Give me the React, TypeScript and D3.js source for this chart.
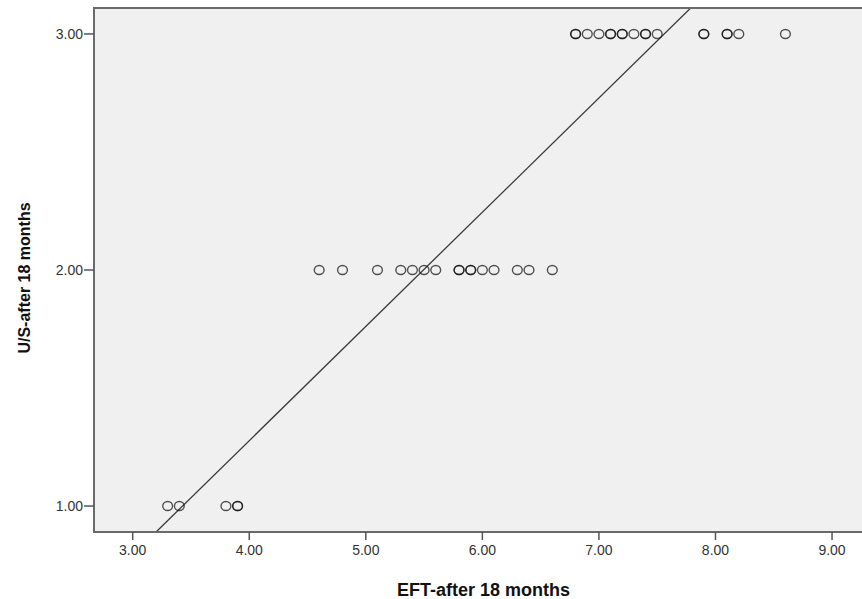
import React from "react";
import * as d3 from "d3";

// EFT-after 18 months (x) and U/S-after 18 months (y)
const eft = [
  3.3, 3.4, 3.8, 3.9, 3.9,
  4.6, 4.8, 5.1, 5.3, 5.4, 5.5, 5.6, 5.8, 5.8, 5.9, 5.9, 6.0, 6.1, 6.3, 6.4, 6.6,
  6.8, 6.8, 6.9, 7.0, 7.1, 7.1, 7.2, 7.2, 7.3, 7.4, 7.4, 7.5, 7.9, 7.9, 8.1, 8.1, 8.2, 8.6,
];
const us = [
  1, 1, 1, 1, 1,
  2, 2, 2, 2, 2, 2, 2, 2, 2, 2, 2, 2, 2, 2, 2, 2,
  3, 3, 3, 3, 3, 3, 3, 3, 3, 3, 3, 3, 3, 3, 3, 3, 3, 3,
];
const xTicks = [3, 4, 5, 6, 7, 8, 9];
const yTicks = [1, 2, 3];
const xDomain = [2.668, 9.257];
const yDomain = [0.89, 3.11];
// linear fit line
const fitIntercept = -0.659;
const fitSlope = 0.484;
const xTitle = "EFT-after 18 months";
const yTitle = "U/S-after 18 months";

export default function App() {
  const W = 862, H = 599;
  const left = 94, top = 8, bottom = 532, right = 862;
  const x = d3.scaleLinear().domain(xDomain).range([left, right]);
  const y = d3.scaleLinear().domain(yDomain).range([bottom, top]);
  const fmt = d3.format(".2f");
  const fitFn = (v: number) => fitIntercept + fitSlope * v;
  const lineGen = d3.line<number>().x((d) => x(d)).y((d) => y(fitFn(d)));
  const fitXs = [xDomain[0], xDomain[1]];
  const font = "'Liberation Sans', Arial, sans-serif";
  return (
    <svg
      width={W}
      height={H}
      style={{ position: "absolute", left: 0, top: 0, background: "#fff" }}
      fontFamily={font}
    >
      <defs>
        <clipPath id="plotClip">
          <rect x={left} y={top} width={right + 20 - left} height={bottom - top} />
        </clipPath>
      </defs>
      <rect x={left} y={top} width={right + 20 - left} height={bottom - top} fill="#f0f0f0" />
      <g clipPath="url(#plotClip)">
        <path d={lineGen(fitXs) || ""} stroke="#3a3a3a" strokeWidth={1.3} fill="none" />
        {eft.map((v, i) => (
          <ellipse
            key={i}
            cx={x(v)}
            cy={y(us[i])}
            rx={4.9}
            ry={4.5}
            fill="none"
            stroke="#111"
            strokeOpacity={0.72}
            strokeWidth={1.4}
          />
        ))}
      </g>
      {/* frame */}
      <line x1={left} x2={right + 20} y1={top} y2={top} stroke="#6a6a6a" strokeWidth={2} />
      <line x1={left} x2={left} y1={top - 1} y2={bottom + 1} stroke="#6a6a6a" strokeWidth={2} />
      <line x1={left} x2={right + 20} y1={bottom} y2={bottom} stroke="#6a6a6a" strokeWidth={2} />
      {/* x ticks */}
      {xTicks.map((t) => (
        <g key={t}>
          <line x1={x(t)} x2={x(t)} y1={bottom} y2={bottom + 8} stroke="#555" strokeWidth={1.5} />
          <text x={x(t)} y={bottom + 23} textAnchor="middle" fontSize={14} fill="#333">
            {fmt(t)}
          </text>
        </g>
      ))}
      {/* y ticks */}
      {yTicks.map((t) => (
        <g key={t}>
          <line x1={left - 10} x2={left} y1={y(t)} y2={y(t)} stroke="#555" strokeWidth={1.5} />
          <text x={left - 11} y={y(t) + 5} textAnchor="end" fontSize={14} fill="#333">
            {fmt(t)}
          </text>
        </g>
      ))}
      <text x={483.5} y={596} textAnchor="middle" fontSize={18} fontWeight="bold" fill="#111">
        {xTitle}
      </text>
      <text
        transform={`translate(30,278) rotate(-90)`}
        textAnchor="middle"
        fontSize={16}
        fontWeight="bold"
        fill="#111"
      >
        {yTitle}
      </text>
    </svg>
  );
}
